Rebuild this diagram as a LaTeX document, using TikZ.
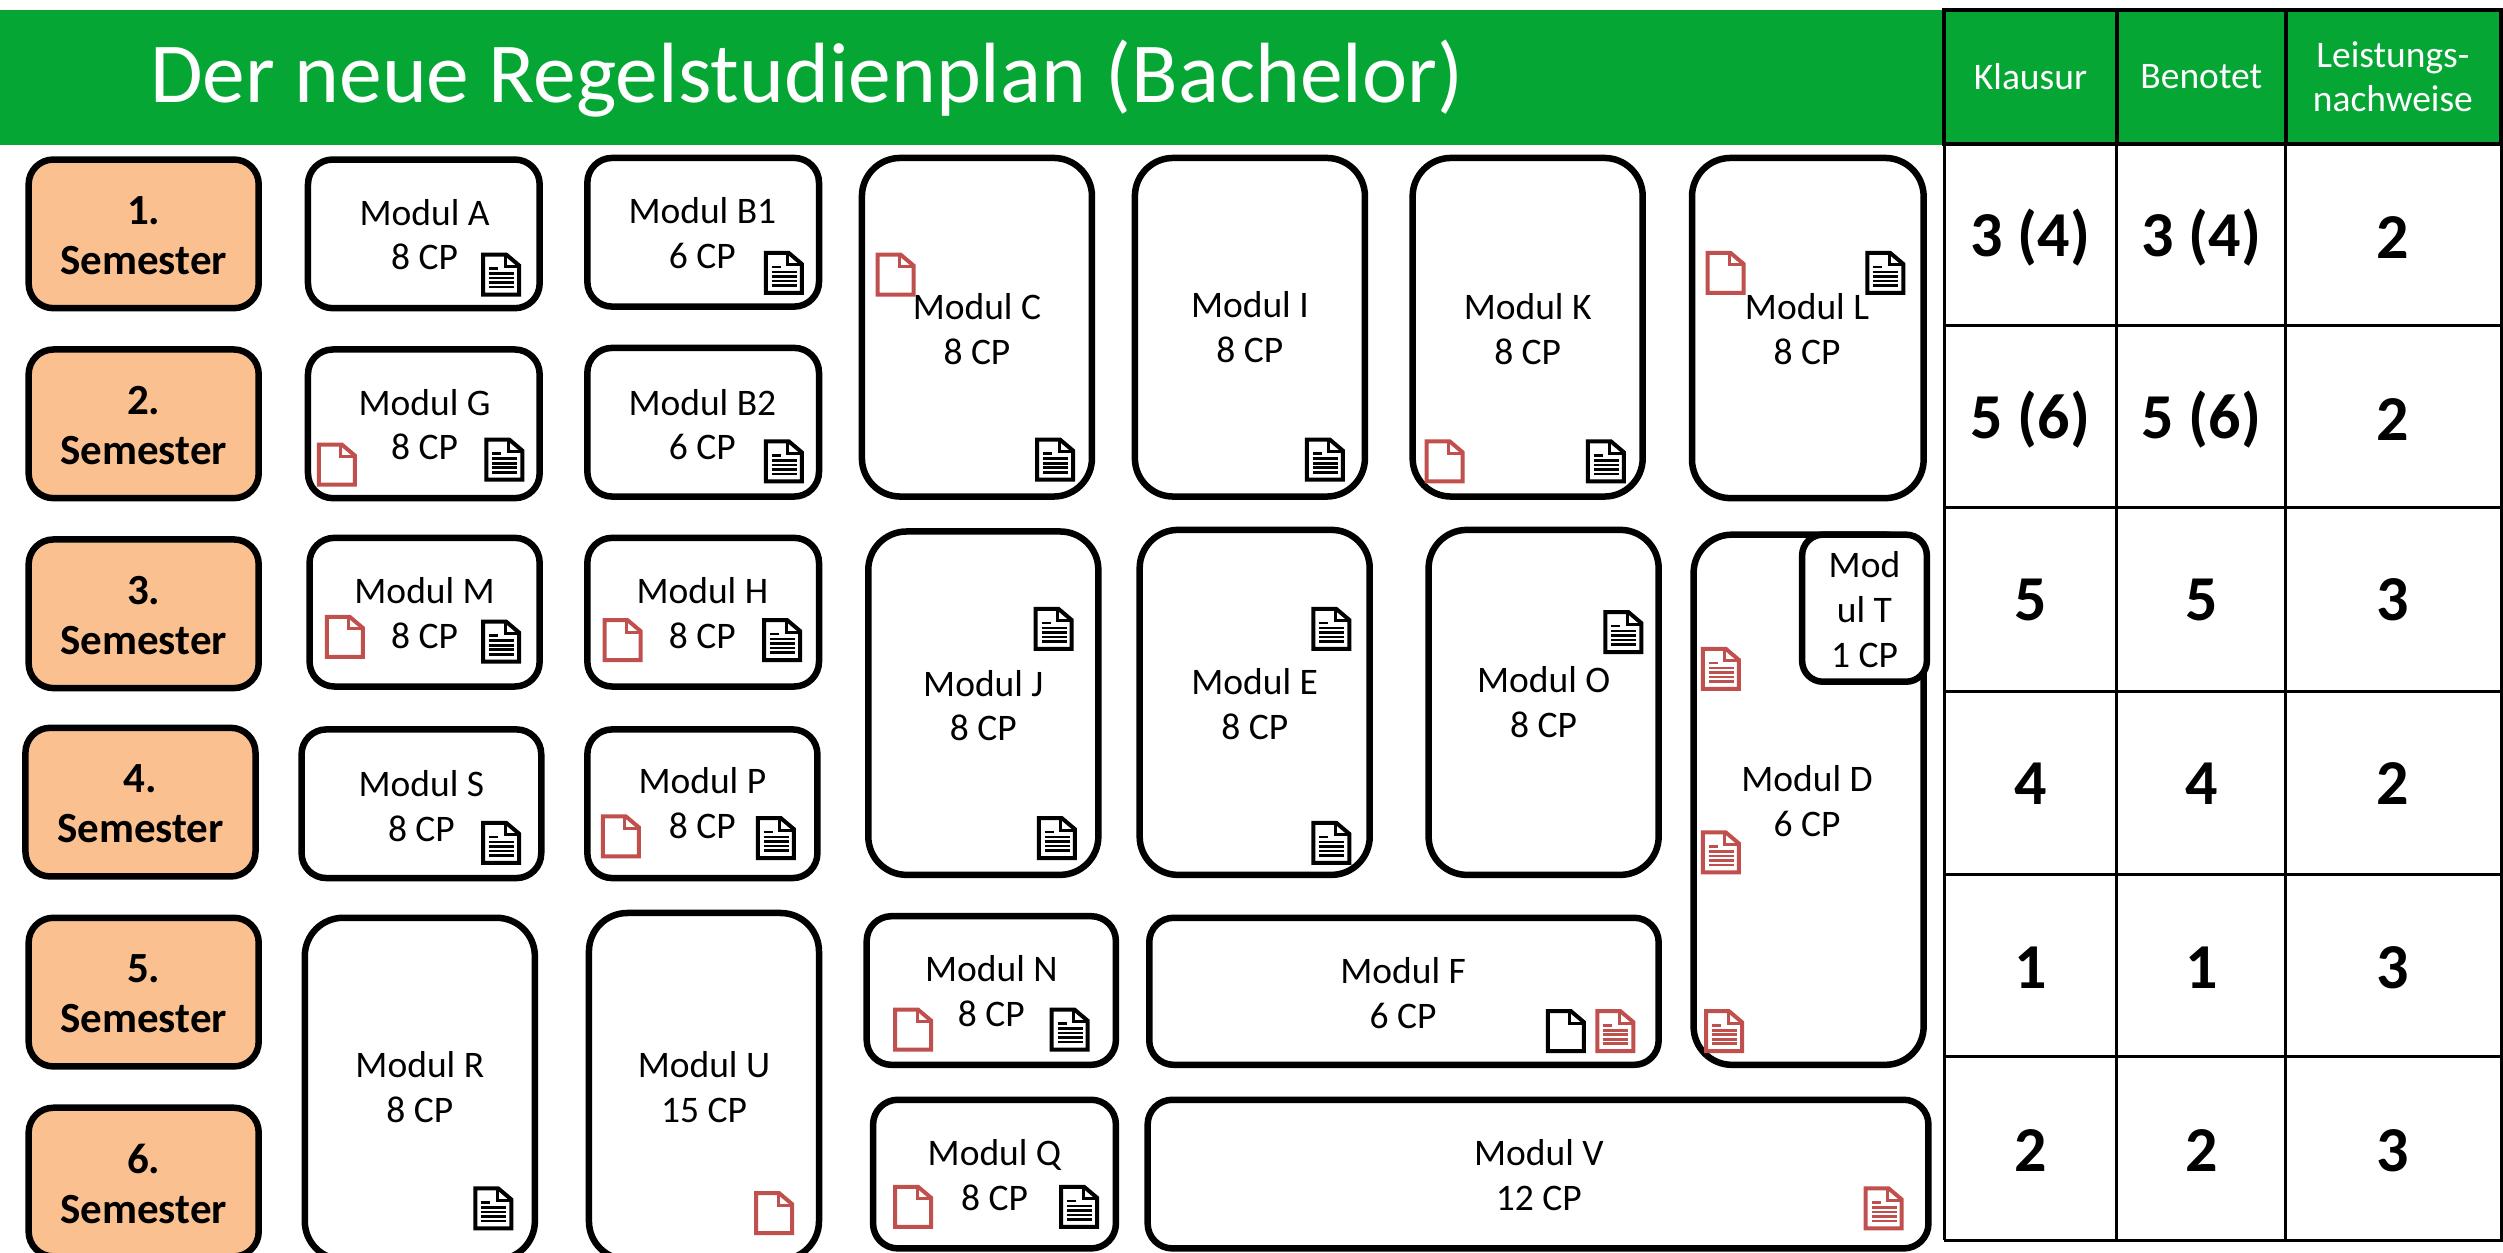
\documentclass[tikz,border=0pt]{standalone}
\usepackage{fontspec}
\setmainfont{Carlito}
\definecolor{hgreen}{HTML}{05A634}
\definecolor{semfill}{HTML}{FAC090}
\definecolor{docred}{HTML}{C0504D}
\tikzset{
  boxframe/.style={draw=black,line width=6.5pt,inner sep=0pt,outer sep=0pt,fill=white},
  semframe/.style={boxframe,fill=semfill},
  modtext/.style={font=\fontsize{37.5}{44.7}\selectfont,align=center,inner sep=0pt,text=black},
  semtext/.style={font=\fontsize{43}{50}\selectfont\bfseries,align=center,inner sep=0pt},
  headtext/.style={font=\fontsize{37.5}{44.7}\selectfont,align=center,inner sep=0pt,text=white},
  valtext/.style={font=\fontsize{64}{70}\selectfont\bfseries,inner sep=0pt},
  titletext/.style={font=\fontsize{85.5}{90}\selectfont,inner sep=0pt,text=white,anchor=west},
  grid/.style={draw=black,line width=3pt},
  gridh/.style={draw=black,line width=4pt},
}
% id x1 y1 x2 y2 style
\newcommand{\rbox}[6]{%
  \pgfmathsetmacro{\bw}{(#4-#2)*1.5963-3}%
  \pgfmathsetmacro{\bh}{(#5-#3)*1.5963-3}%
  \pgfmathsetmacro{\br}{min(\bw,\bh)/6}%
  \node[#6,minimum width=\bw pt,minimum height=\bh pt,rounded corners=\br pt] (#1) at ({(#2+#4)/2},{(#3+#5)/2}) {};}
% id x1 y1 x2 y2 tx ty text
\newcommand{\modul}[8]{%
  \rbox{#1}{#2}{#3}{#4}{#5}{boxframe}%
  \node[modtext] (#1-t) at (#6,#7) {#8};}
% x y
\newcommand{\docfull}[3]{%
  \begin{scope}[shift={(#1,#2)},x=1pt,y=-1pt]
    \draw[#3,line width=4pt,line join=miter] (-18,-20) -- (5,-20) -- (18,-9) -- (18,20) -- (-18,20) -- cycle;
    \draw[#3,line width=3pt] (4,-20) -- (4,-8) -- (18,-8);
    \draw[#3,line width=2.6pt] (-12,-6) -- (-3,-6) (-12,-1) -- (13,-1) (-12,3.5) -- (13,3.5) (-12,8) -- (13,8) (-12,12.5) -- (13,12.5);
  \end{scope}}
\newcommand{\docempty}[3]{%
  \begin{scope}[shift={(#1,#2)},x=1pt,y=-1pt]
    \draw[#3,line width=4pt,line join=miter] (-18,-20) -- (5,-20) -- (18,-9) -- (18,20) -- (-18,20) -- cycle;
    \draw[#3,line width=3pt] (4,-20) -- (4,-8) -- (18,-8);
  \end{scope}}
\begin{document}
\begin{tikzpicture}[x=1.5963pt,y=-1.5963pt]
\useasboundingbox (0,0) rectangle (1568,784.9);
\fill[white] (0,0) rectangle (1568,784.9);
% header band
\fill[hgreen] (0,6) rectangle (1568,91);
\node[titletext] (title) at (94,49) {Der neue Regelstudienplan (Bachelor)};
% table
\foreach \yy in {204,318,433,548,662,777} \draw[grid] (1218,\yy) -- (1568,\yy);
\foreach \xx in {1218,1326,1432} \draw[grid] (\xx,90) -- (\xx,777);
\draw[gridh] (1218,6.5) -- (1567,6.5) -- (1567,90) -- (1218,90) -- cycle;
\foreach \xx in {1326,1432} \draw[gridh] (\xx,6.5) -- (\xx,90);
\draw[grid] (1567,90) -- (1567,777);
\node[headtext] (h1) at (1272,48) {Klausur};
\node[headtext] (h2) at (1379,48) {Benotet};
\node[headtext] (h3) at (1499,48) {Leistungs-\\nachweise};
\foreach \nm/\yy/\a/\b/\c in {1/149/3 (4)/3 (4)/2,2/263/5 (6)/5 (6)/2,3/376/5/5/3,4/491/4/4/2,5/606/1/1/3,6/721/2/2/3}{
  \node[valtext] (va\nm) at (1272,\yy) {\a};
  \node[valtext] (vb\nm) at (1379,\yy) {\b};
  \node[valtext] (vc\nm) at (1499,\yy) {\c};
}
% semesters
\newcommand{\sem}[6]{\rbox{#1}{#2}{#3}{#4}{#5}{semframe}\node[semtext] (#1-t) at ({(#2+#4)/2},{(#3+#5)/2+1}) {#6.\\Semester};}
\sem{s1}{17}{99}{163}{194}{1}
\sem{s2}{17}{218}{163}{313}{2}
\sem{s3}{17}{337}{163}{432}{3}
\sem{s4}{15}{455}{161}{550}{4}
\sem{s5}{17}{574}{163}{669}{5}
\sem{s6}{17}{693}{163}{788}{6}
% modules
\modul{A}{192}{99}{339}{194}{266}{147}{Modul A\\8 CP}
\modul{Bone}{367}{98}{514}{193}{440}{146}{Modul B1\\6 CP}
\modul{C}{539}{98}{685}{312}{612}{206}{Modul C\\8 CP}
\modul{I}{710}{98}{856}{312}{783}{205}{Modul I\\8 CP}
\modul{K}{884}{98}{1030}{312}{957}{206}{Modul K\\8 CP}
\modul{L}{1059}{98}{1206}{313}{1132}{206}{Modul L\\8 CP}
\modul{G}{192}{218}{339}{313}{266}{266}{Modul G\\8 CP}
\modul{Btwo}{367}{217}{514}{312}{440}{266}{Modul B2\\6 CP}
\modul{M}{193}{336}{339}{431}{266}{384}{Modul M\\8 CP}
\modul{H}{367}{336}{514}{431}{440}{384}{Modul H\\8 CP}
\modul{J}{543}{332}{689}{549}{616}{442}{Modul J\\8 CP}
\modul{E}{713}{331}{859}{549}{786}{441}{Modul E\\8 CP}
\modul{O}{894}{331}{1040}{549}{967}{440}{Modul O\\8 CP}
\modul{D}{1060}{334}{1206}{668}{1132}{502}{Modul D\\6 CP}
\modul{T}{1128}{334}{1208}{428}{1168}{382}{Mod\\ul T\\1 CP}
\modul{S}{188}{456}{340}{551}{264}{505}{Modul S\\8 CP}
\modul{P}{367}{456}{513}{551}{440}{503}{Modul P\\8 CP}
\modul{N}{542}{573}{700}{668}{621}{621}{Modul N\\8 CP}
\modul{F}{719}{574}{1040}{668}{879}{622}{Modul F\\6 CP}
\modul{R}{190}{574}{336}{790}{263}{681}{Modul R\\8 CP}
\modul{U}{368}{571}{514}{790}{441}{681}{Modul U\\15 CP}
\modul{Q}{546}{688}{700}{783}{623}{736}{Modul Q\\8 CP}
\modul{V}{718}{688}{1209}{783}{964}{736}{Modul V\\12 CP}
% black full docs
\foreach \px/\py in {314/172,491/171,661/288,830/288,1006/289,1181/171,316/288,491/289,314/402,490/401,660/394,662/525,834/394,834/528,1017/396,314/528,486/525,670/645,309/757,676/756}
  {\docfull{\px}{\py}{black}}
% red empty docs
\foreach \px/\py in {561/172,905/289,1081/171,211/291,216/399,390/401,389/524,572/645,485/760,572/756}
  {\docempty{\px}{\py}{docred}}
\docempty{981}{646}{black}
% red full docs
\foreach \px/\py in {1078/419,1078/534,1080/646,1012/646,1180/757}
  {\docfull{\px}{\py}{docred}}
\end{tikzpicture}
\end{document}
